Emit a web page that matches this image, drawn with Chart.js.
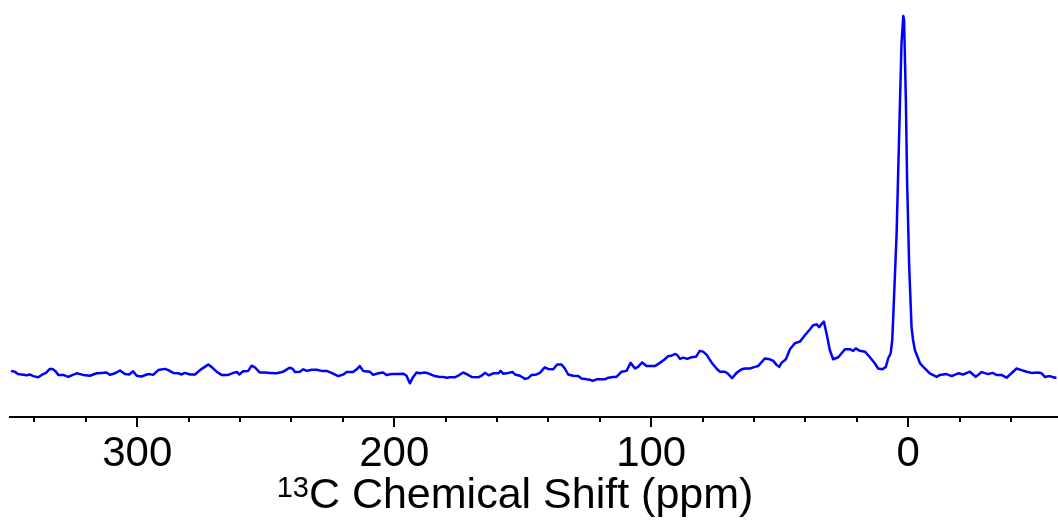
<!DOCTYPE html>
<html>
<head>
<meta charset="utf-8">
<script src="https://cdn.jsdelivr.net/npm/chart.js@4/dist/chart.umd.min.js"></script>
<style>
  html, body { margin: 0; padding: 0; background: #fff; }
  #wrap { width: 1058px; height: 523px; position: relative; }
</style>
</head>
<body>
<div id="wrap"><canvas id="spectrum"></canvas></div>
<script>
// 13C chemical shift (ppm) and intensity
const shiftPpm = [
  349.1, 347.6, 346.4, 345.0, 343.0, 341.8, 340.5, 338.5, 337.2, 335.5,
  334.0, 332.9, 331.6, 330.7, 328.8, 326.8, 325.5, 323.6, 321.0, 318.4,
  315.8, 313.9, 311.9, 310.6, 308.7, 306.7, 304.8, 303.1, 301.6, 300.2,
  298.3, 296.3, 295.1,
  293.8, 291.8, 289.2, 287.9, 286.0, 284.0, 282.7, 281.4, 279.5, 277.5,
  275.6, 273.7, 272.4, 271.1, 269.1, 267.2, 264.6, 262.6, 261.1, 260.3,
  258.8, 256.8, 255.5, 254.2, 252.3, 250.3, 248.4, 245.8, 243.2, 240.6,
  239.5, 238.6, 236.7,
  235.4, 233.9, 232.1, 230.2, 228.2, 226.3, 224.4, 221.8, 219.8, 218.5,
  216.0, 214.6, 213.4, 212.1, 209.5, 208.2, 206.2, 204.3, 203.0, 201.0,
  199.1, 196.5, 195.2, 193.9, 192.6, 191.3, 190.0, 188.1, 186.8, 185.4,
  184.2, 182.2, 180.9, 179.6, 178.3,
  176.4, 175.1, 173.2, 171.8, 169.9, 167.3, 166.0, 164.7, 163.2, 161.5,
  159.5, 158.6, 157.6, 155.6, 153.9, 153.0, 151.1, 149.1, 147.9, 146.5,
  144.6, 143.3, 141.4, 140.1, 138.1, 136.6, 134.9, 133.6, 132.3, 130.4,
  128.4, 127.1, 125.1, 123.9, 122.8, 121.2, 120.0,
  118.0, 116.7, 114.8, 113.5, 111.5, 109.6, 108.0, 106.3, 105.1, 103.5,
  101.8, 100.5, 98.6, 96.6, 94.7, 93.4, 92.1, 90.8, 89.9, 88.8,
  87.5, 86.0, 84.3, 82.6, 81.1, 79.8, 78.4, 76.5, 74.6, 73.3,
  71.3, 70.0, 68.5, 66.8, 64.8, 63.5, 61.6,
  59.6, 58.4, 55.8, 53.8, 52.5, 51.2, 50.2, 49.3, 47.6, 46.0,
  44.1, 42.1, 40.2, 38.2, 37.0, 35.6, 34.6, 33.7, 32.8, 31.5,
  30.5, 29.2, 27.2, 25.9, 24.6, 22.7, 21.4, 20.4, 18.8, 16.8,
  14.9, 13.0, 11.7, 10.0, 8.7, 7.8, 6.8, 6.2, 5.8, 4.5,
  3.5, 2.6, 1.9, 1.6, 0.9, 0.4, -0.4, -1.3, -1.9, -2.6,
  -4.6, -6.5, -8.4, -11.1, -12.3, -14.9, -16.9, -19.5, -21.4, -24.0,
  -26.3, -28.6, -31.1, -32.8, -34.4, -36.3, -38.3, -40.2, -42.2, -44.1,
  -46.1, -48.0, -50.6, -51.9, -53.2, -55.1, -57.1, -57.7
];

const intensity = [
  11.5, 11.3, 10.7, 10.6, 10.4, 10.6, 10.2, 9.9, 10.5, 11.0,
  12.0, 12.0, 11.3, 10.5, 10.5, 10.0, 10.4, 10.9, 10.5, 10.3,
  10.9, 11.0, 11.1, 10.5, 10.9, 11.6, 10.7, 10.6, 11.4, 10.3,
  10.1, 10.6, 10.7,
  10.5, 11.7, 12.0, 11.7, 11.0, 10.9, 10.6, 11.0, 10.6, 10.6,
  11.7, 12.5, 13.1, 12.5, 11.3, 10.5, 10.5, 11.0, 11.2, 10.6,
  11.4, 11.5, 12.8, 12.4, 11.1, 11.1, 11.0, 10.9, 11.3, 12.3,
  12.0, 11.2, 11.3,
  11.9, 11.5, 11.8, 11.8, 11.5, 11.5, 11.0, 10.2, 10.6, 11.2,
  11.2, 11.9, 12.7, 11.5, 11.3, 10.5, 10.9, 11.1, 10.5, 10.7,
  10.7, 10.8, 10.3, 8.4, 10.0, 11.1, 10.9, 11.1, 10.9, 10.5,
  10.2, 10.0, 10.0, 9.8, 9.9,
  9.9, 10.3, 11.1, 10.7, 10.0, 9.9, 10.3, 11.0, 10.4, 10.9,
  10.9, 11.5, 10.8, 11.0, 11.2, 10.6, 10.3, 9.5, 9.7, 10.5,
  10.6, 11.0, 12.4, 12.0, 11.9, 13.1, 13.1, 12.1, 10.6, 10.3,
  10.2, 9.6, 9.4, 9.3, 9.0, 9.4, 9.4,
  9.4, 9.8, 10.0, 10.0, 11.3, 11.5, 13.5, 12.1, 12.5, 13.6,
  12.7, 12.7, 12.7, 13.5, 14.4, 15.2, 15.3, 15.7, 15.5, 14.5,
  14.8, 14.5, 14.9, 15.0, 16.5, 16.3, 15.5, 13.6, 12.1, 11.3,
  11.3, 10.7, 9.7, 11.0, 11.9, 12.1, 12.1,
  12.5, 12.7, 14.6, 14.4, 14.0, 13.0, 12.5, 13.5, 14.4, 16.9,
  18.4, 18.8, 20.4, 21.9, 22.9, 23.1, 22.4, 23.2, 23.8, 20.0,
  16.7, 14.4, 14.9, 15.9, 16.9, 16.9, 16.5, 17.1, 16.5, 16.3,
  14.9, 13.4, 12.1, 11.9, 12.5, 14.6, 15.9, 19.2, 25.2, 45.8,
  70.7, 93.2, 100.0, 99.0, 79.1, 58.3, 37.5, 22.5, 19.2, 16.7,
  13.4, 12.1, 10.9, 10.0, 10.5, 10.7, 10.2, 10.9, 10.6, 11.3,
  10.0, 11.2, 10.7, 11.0, 10.5, 10.5, 9.8, 10.9, 12.1, 11.7,
  11.3, 11.0, 11.1, 10.9, 10.0, 10.2, 9.8, 9.9
];

const majorTicks = [300, 200, 100, 0];
const axisTitleSup = '13';
const axisTitleMain = 'C Chemical Shift (ppm)';

const points = shiftPpm.map((p, i) => ({ x: p, y: intensity[i] }));

// minor ticks every 20 ppm, longer ones at the labelled hundreds
const tickMarks = {
  id: 'tickMarks',
  afterDraw(chart) {
    const sx = chart.scales.x;
    const ctx = chart.ctx;
    ctx.save();
    ctx.strokeStyle = '#000';
    ctx.lineWidth = 2;
    sx.ticks.forEach(t => {
      const px = Math.round(sx.getPixelForValue(t.value));
      const len = majorTicks.includes(t.value) ? 10 : 5;
      ctx.beginPath();
      ctx.moveTo(px, sx.top);
      ctx.lineTo(px, sx.top + len);
      ctx.stroke();
    });
    ctx.restore();
  }
};

// axis title with a real superscript
const axisTitle = {
  id: 'axisTitle',
  afterDraw(chart) {
    const ctx = chart.ctx;
    ctx.save();
    ctx.fillStyle = '#000';
    ctx.textBaseline = 'alphabetic';
    ctx.textAlign = 'left';
    ctx.font = '29px "Liberation Sans", Arial, sans-serif';
    const wSup = ctx.measureText(axisTitleSup).width;
    ctx.font = '43px "Liberation Sans", Arial, sans-serif';
    const wMain = ctx.measureText(axisTitleMain).width;
    const left = 515 - (wSup + wMain) / 2;
    ctx.font = '29px "Liberation Sans", Arial, sans-serif';
    ctx.fillText(axisTitleSup, left, 497);
    ctx.font = '43px "Liberation Sans", Arial, sans-serif';
    ctx.fillText(axisTitleMain, left + wSup, 508);
    ctx.restore();
  }
};

new Chart(document.getElementById('spectrum'), {
  type: 'line',
  data: {
    datasets: [{
      data: points,
      borderColor: '#0000ff',
      borderWidth: 2.5,
      borderJoinStyle: 'round',
      pointRadius: 0,
      tension: 0,
      fill: false
    }]
  },
  options: {
    responsive: true,
    maintainAspectRatio: false,
    animation: false,
    layout: { padding: { left: 10, right: 0, top: 0, bottom: 0 } },
    plugins: { legend: { display: false }, tooltip: { enabled: false } },
    scales: {
      x: {
        type: 'linear',
        reverse: true,
        min: -58.3,
        max: 349.5,
        afterFit: s => { s.height = 106; },
        border: { display: true, color: '#000', width: 2 },
        grid: { display: true, drawOnChartArea: false, drawTicks: true, tickLength: 10, tickColor: 'rgba(0,0,0,0)' },
        ticks: {
          stepSize: 20,
          includeBounds: false,
          autoSkip: false,
          maxRotation: 0,
          padding: 2,
          color: '#000',
          font: { family: '"Liberation Sans", Arial, sans-serif', size: 42 },
          callback: v => majorTicks.includes(v) ? String(v) : ''
        }
      },
      y: {
        display: false,
        min: 0,
        max: 104
      }
    }
  },
  plugins: [tickMarks, axisTitle]
});
</script>
</body>
</html>
